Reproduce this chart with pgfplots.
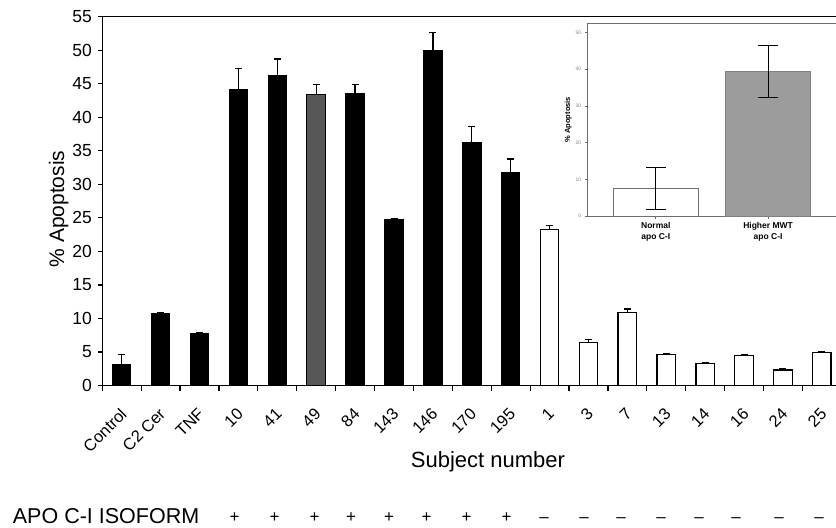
\documentclass[border=0pt]{standalone}
\usepackage{fontspec}
\setmainfont{Liberation Sans}
\usepackage{pgfplots}
\pgfplotsset{compat=1.18}

\definecolor{midgrey}{HTML}{575757}
\definecolor{insetgrey}{HTML}{9C9C9C}
\definecolor{framegrey}{HTML}{6E6E6E}

\begin{document}
\begin{tikzpicture}
\path[use as bounding box] (0,0) rectangle (836bp,-528bp);

% main chart
\begin{axis}[
  at={(102.3bp,-385.5bp)}, anchor=south west,
  scale only axis, width=739bp, height=368.8bp,
  xmin=-0.5, xmax=18.5, ymin=0, ymax=55,
  ytick={0,5,...,55},
  xtick={0,...,18},
  xticklabels={Control, C2 Cer, TNF, 10, 41, 49, 84, 143, 146, 170, 195, 1, 3, 7, 13, 14, 16, 24, 25},
  minor xtick={-0.5,0.5,...,18.5},
  tick pos=left, tick align=outside,
  major tick length=4bp, minor tick length=5bp,
  every tick/.style={black, line width=1.2bp},
  every major x tick/.append style={draw=none},
  axis line style={line width=1.4bp},
  /pgf/number format/assume math mode=true,
  yticklabel style={font=\fontsize{17.5bp}{20bp}\selectfont, xshift=-3bp},
  % shifts act in the rotated frame
  xticklabel style={font=\fontsize{16.5bp}{19bp}\selectfont, rotate=45, anchor=north east,
    inner sep=1bp, xshift=-13bp, yshift=-9.5bp},
]
\addplot[ybar, bar width=18.5bp, bar shift=0pt, fill=black, draw=black, line width=1bp,
  error bars/.cd, y dir=plus, y explicit,
  error bar style={line width=1.3bp},
  error mark options={rotate=90, mark size=3.5bp, line width=1.3bp}]
coordinates {
  (0,3.2) +- (0,1.4)
  (1,10.8) +- (0,0.1)
  (2,7.7) +- (0,0.2)
  (3,44.1) +- (0,3.2)
  (4,46.2) +- (0,2.5)
  (6,43.5) +- (0,1.4)
  (7,24.8) +- (0,0.15)
  (8,50.0) +- (0,2.6)
  (9,36.3) +- (0,2.3)
  (10,31.8) +- (0,2.0)
};
\addplot[ybar, bar width=18.5bp, bar shift=0pt, fill=midgrey, draw=black, line width=1bp,
  error bars/.cd, y dir=plus, y explicit,
  error bar style={line width=1.3bp},
  error mark options={rotate=90, mark size=3.5bp, line width=1.3bp}]
coordinates {
  (5,43.4) +- (0,1.5)
};
\addplot[ybar, bar width=18.5bp, bar shift=0pt, fill=white, draw=black, line width=1.3bp,
  error bars/.cd, y dir=plus, y explicit,
  error bar style={line width=1.3bp},
  error mark options={rotate=90, mark size=3.5bp, line width=1.3bp}]
coordinates {
  (11,23.3) +- (0,0.6)
  (12,6.4) +- (0,0.5)
  (13,10.9) +- (0,0.5)
  (14,4.6) +- (0,0.15)
  (15,3.3) +- (0,0.15)
  (16,4.5) +- (0,0.15)
  (17,2.3) +- (0,0.15)
  (18,4.9) +- (0,0.2)
};
\end{axis}

\node[rotate=90, anchor=base, font=\fontsize{21bp}{24bp}\selectfont] at (64bp,-209bp) {\% Apoptosis};
\node[anchor=base, font=\fontsize{22bp}{26bp}\selectfont] at (488bp,-467.3bp) {Subject number};
\node[anchor=base west, inner sep=0pt, font=\fontsize{21.5bp}{24bp}\selectfont] at (12.7bp,-523.3bp) {APO C-I ISOFORM};
\foreach \px in {234.7,274.7,314.7,351,389,426.7,466.7,506.7}
  \node[anchor=base, inner sep=0pt, font=\fontsize{17bp}{20bp}\selectfont] at (\px bp,-522bp) {+};
\foreach \px in {544,584,621,661,699,736,779,819}
  \node[anchor=base, inner sep=0pt, font=\fontsize{17bp}{20bp}\selectfont] at (\px bp,-522bp) {–};

% inset
\begin{axis}[
  at={(587.7bp,-216bp)}, anchor=south west,
  scale only axis, width=250bp, height=192.7bp,
  xmin=-0.606, xmax=1.62, ymin=0, ymax=52.5,
  ytick={0,10,...,50}, xtick={0,1},
  xticklabels={{Normal\\apo C-I},{Higher MWT\\apo C-I}},
  xticklabel style={align=center, font=\bfseries\fontsize{8.5bp}{11bp}\selectfont},
  /pgf/number format/assume math mode=true,
  yticklabel style={font=\fontsize{5bp}{6bp}\selectfont, text=gray},
  ylabel={\% Apoptosis},
  ylabel style={font=\bfseries\fontsize{7.5bp}{9bp}\selectfont, xshift=0pt, yshift=-3bp},
  tick pos=left, tick align=outside, major tick length=3bp,
  axis line style={framegrey, line width=0.7bp},
  every tick/.style={framegrey, line width=0.6bp},
]
\addplot[ybar, bar width=85bp, bar shift=0pt, fill=white, draw=framegrey, line width=0.8bp,
  error bars/.cd, y dir=both, y explicit,
  error bar style={black, line width=0.7bp},
  error mark options={rotate=90, mark size=10bp, line width=0.7bp, black}]
coordinates {(0,7.5) +- (0,5.8)};
\addplot[ybar, bar width=85bp, bar shift=0pt, fill=insetgrey, draw=gray, line width=0.8bp,
  error bars/.cd, y dir=both, y explicit,
  error bar style={black, line width=0.7bp},
  error mark options={rotate=90, mark size=10bp, line width=0.7bp, black}]
coordinates {(1,39.3) +- (0,7.1)};
\end{axis}
\end{tikzpicture}
\end{document}
